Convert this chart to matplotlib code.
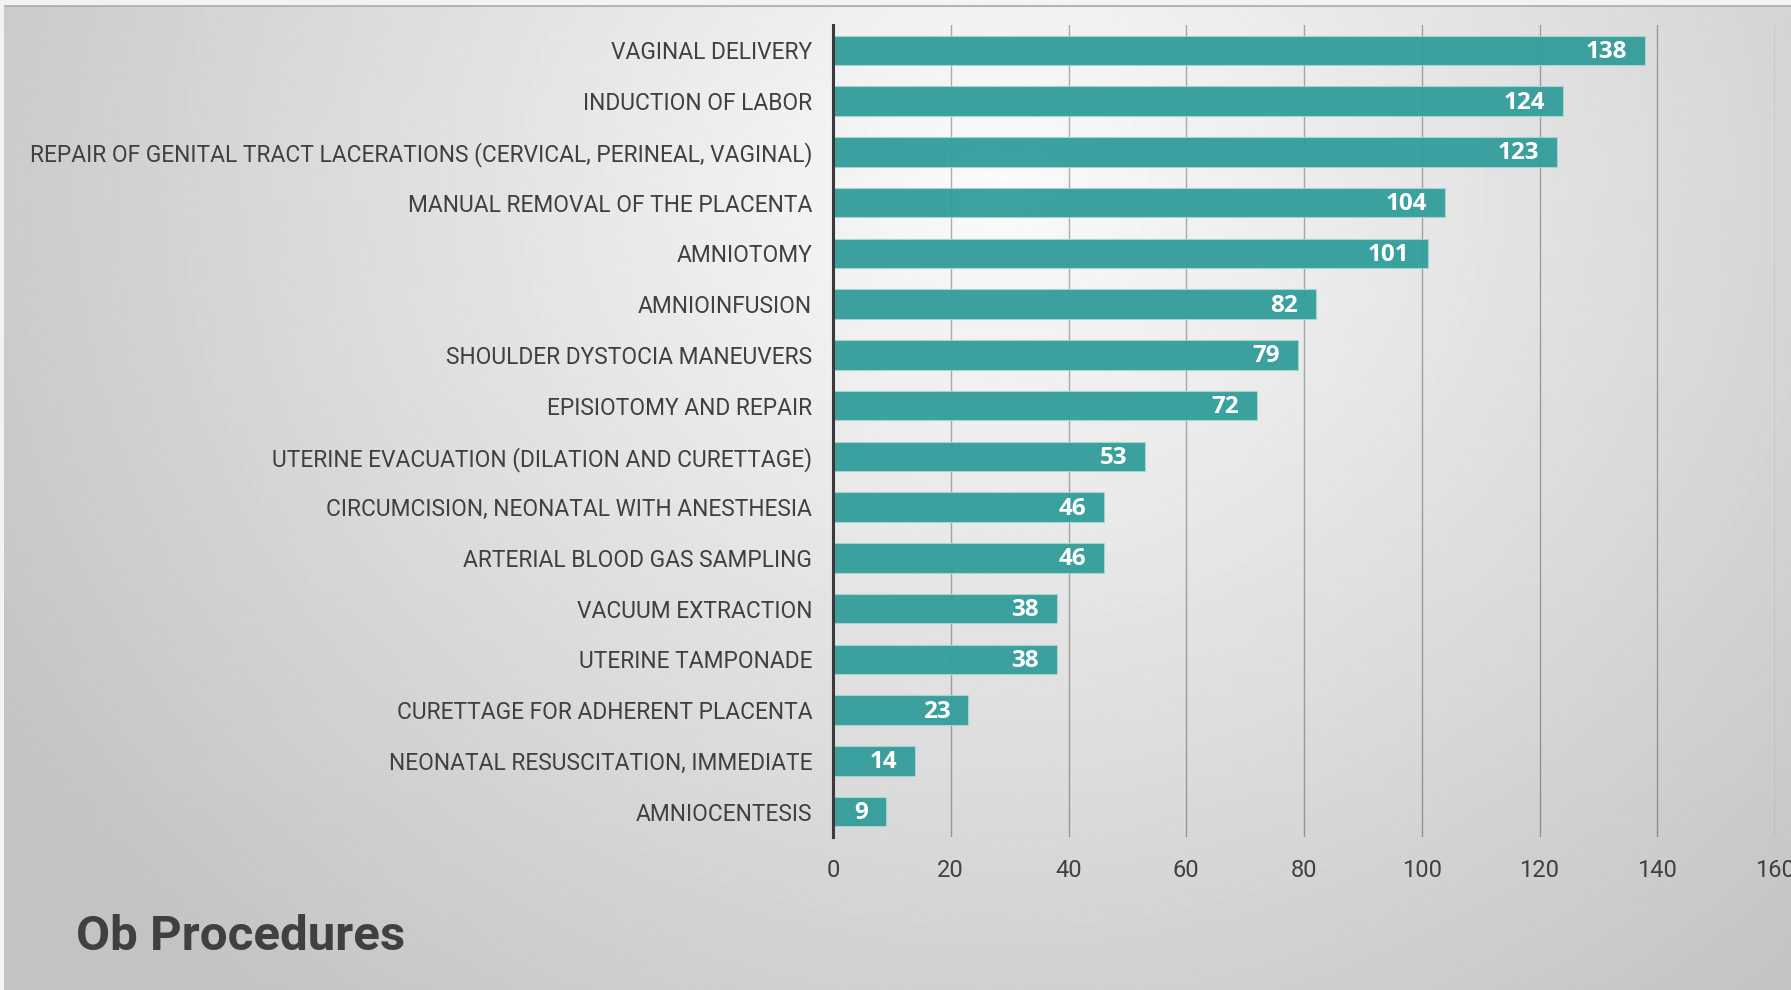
import numpy as np
import matplotlib.pyplot as plt

plt.rcParams["font.family"] = ["Roboto", "DejaVu Sans"]

# data, top to bottom as shown
procedures = [
    "VAGINAL DELIVERY",
    "INDUCTION OF LABOR",
    "REPAIR OF GENITAL TRACT LACERATIONS (CERVICAL, PERINEAL, VAGINAL)",
    "MANUAL REMOVAL OF THE PLACENTA",
    "AMNIOTOMY",
    "AMNIOINFUSION",
    "SHOULDER DYSTOCIA MANEUVERS",
    "EPISIOTOMY AND REPAIR",
    "UTERINE EVACUATION (DILATION AND CURETTAGE)",
    "CIRCUMCISION, NEONATAL WITH ANESTHESIA",
    "ARTERIAL BLOOD GAS SAMPLING",
    "VACUUM EXTRACTION",
    "UTERINE TAMPONADE",
    "CURETTAGE FOR ADHERENT PLACENTA",
    "NEONATAL RESUSCITATION, IMMEDIATE",
    "AMNIOCENTESIS",
]
counts = [138, 124, 123, 104, 101, 82, 79, 72, 53, 46, 46, 38, 38, 23, 14, 9]
x_ticks = [0, 20, 40, 60, 80, 100, 120, 140, 160]
title = "Ob Procedures"

W, H = 1791, 990
fig = plt.figure(figsize=(W / 100, H / 100), dpi=100, facecolor="#f3f3f3")

# slide background: soft radial grey gradient
bg = fig.add_axes([4 / W, 0, 1 - 4 / W, 1 - 5 / H], zorder=0)
yy, xx = np.mgrid[0:H, 0:W]
r = np.sqrt(((xx - 1000) / 1100) ** 2 + ((yy - 180) / 1000) ** 2)
shade = np.clip(251 - 52 * r, 196, 251) / 255
bg.imshow(shade, cmap="gray", vmin=0, vmax=1, aspect="auto", interpolation="bilinear")
bg.axhline(0.5, color="#b5b5b5", lw=1.5)
bg.axis("off")

# chart
ax = fig.add_axes([833 / W, (H - 837) / H, 942 / W, 812 / H], zorder=1)
ax.set_facecolor("none")
ypos = np.arange(len(procedures))
ax.barh(ypos, counts, height=0.585, color="#349e9b", edgecolor="#a6d6d2",
        linewidth=0.8, alpha=0.96, zorder=2)

for y, v in zip(ypos, counts):
    ax.annotate(str(v), (v, y), xytext=(-13, -1), textcoords="offset points",
                ha="right", va="center", color="white", fontsize=17.5,
                fontweight="bold", family=["Open Sans", "DejaVu Sans"], zorder=3)

ax.set_xlim(0, 160)
ax.set_ylim(len(procedures) - 0.5, -0.5)
ax.set_xticks(x_ticks)
ax.set_yticks(ypos)
ax.set_yticklabels(procedures)
ax.xaxis.grid(True, color="black", alpha=0.3, lw=1.0, zorder=1)
ax.set_axisbelow(True)

for side in ["top", "right", "bottom"]:
    ax.spines[side].set_visible(False)
ax.spines["left"].set_color("#3a3a3a")
ax.spines["left"].set_linewidth(2.2)
ax.spines["left"].set_zorder(4)

ax.tick_params(axis="y", length=0, pad=15, labelsize=16.4, labelcolor="#404040")
ax.tick_params(axis="x", length=0, pad=16, labelsize=17, labelcolor="#404040")

fig.text(76 / W, 1 - 937 / H, title, ha="left", va="center", fontsize=35.5,
         fontweight="bold", color="#404040")

fig.savefig("out.png", dpi=100, facecolor=fig.get_facecolor())
